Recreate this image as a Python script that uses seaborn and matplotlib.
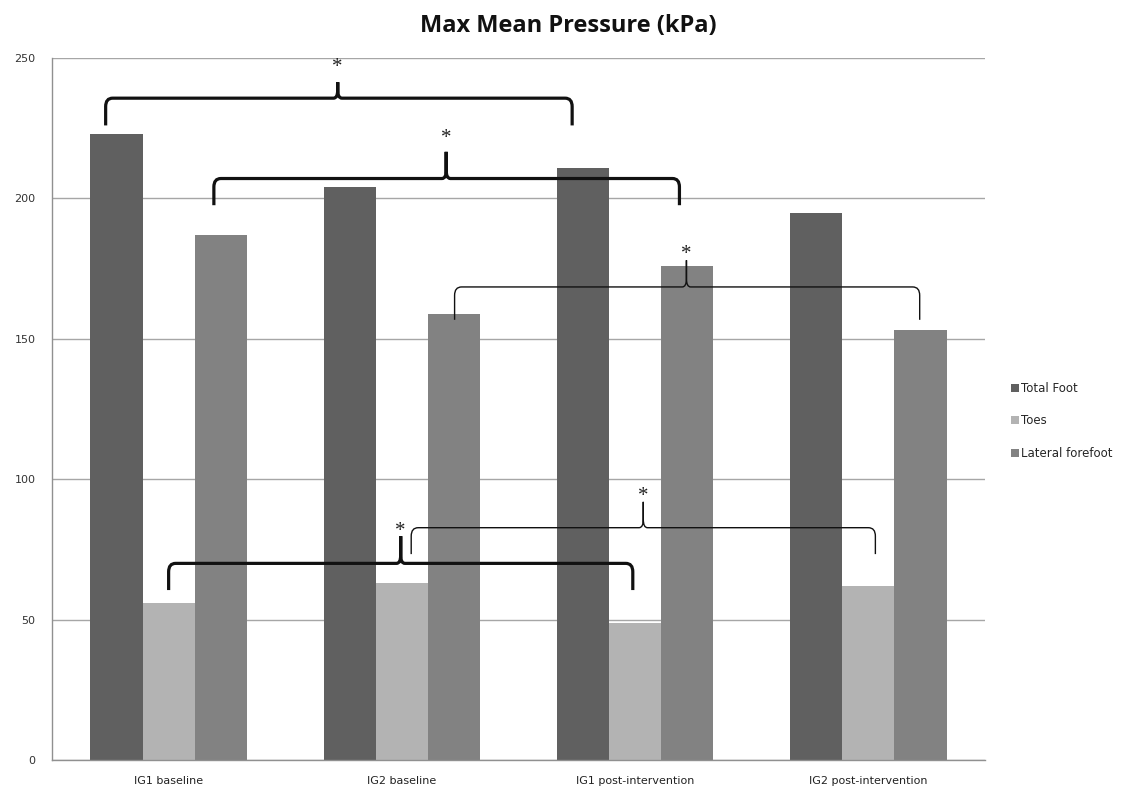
import matplotlib
matplotlib.use("Agg")
import matplotlib.pyplot as plt
from matplotlib.path import Path
from matplotlib.patches import PathPatch
import seaborn as sns
import pandas as pd

# ---- data ----
categories = ["IG1 baseline", "IG2 baseline", "IG1 post-intervention", "IG2 post-intervention"]
series = ["Total Foot", "Toes", "Lateral forefoot"]
total_foot = [223, 204, 211, 195]
toes = [56, 63, 49, 62]
lateral_forefoot = [187, 159, 176, 153]
colors = ["#606060", "#b3b3b3", "#828282"]
yticks = [0, 50, 100, 150, 200, 250]

rows = []
for name, vals in zip(series, [total_foot, toes, lateral_forefoot]):
    for c, v in zip(categories, vals):
        rows.append({"Group": c, "Region": name, "Value": v})
df = pd.DataFrame(rows)

sns.set_style("white")
fig = plt.figure(figsize=(11.28, 7.94), dpi=100)
ax = fig.add_axes([52/1128, 1-760.3/794, (985-52)/1128, (760.3-58)/794])

sns.barplot(data=df, x="Group", y="Value", hue="Region", order=categories,
            hue_order=series, palette=colors, width=0.67, saturation=1,
            linewidth=0, ax=ax, zorder=2, legend=True)

ax.set_xlim(-0.5, 3.5)
ax.set_ylim(0, 250)
ax.set_yticks(yticks)
ax.set_yticklabels([str(t) for t in yticks], fontsize=8, color="#333333",
                   family="DejaVu Sans")
ax.tick_params(axis="y", length=0, pad=12)
ax.tick_params(axis="x", length=0, pad=11)
for lab in ax.get_xticklabels():
    lab.set_family(["Liberation Sans Narrow", "DejaVu Sans"])
    lab.set_fontsize(8)
    lab.set_color("#222222")
ax.set_xlabel("")
ax.set_ylabel("")
ax.yaxis.grid(True, color="#a6a6a6", linewidth=1)
ax.set_axisbelow(True)
for s in ["top", "right"]:
    ax.spines[s].set_visible(False)
for s in ["left", "bottom"]:
    ax.spines[s].set_color("#909090")
    ax.spines[s].set_linewidth(1)

# legend
h, l = ax.get_legend_handles_labels()
ax.legend(h, l, loc="center left", bbox_to_anchor=(1006/1128, 1-421/794),
          bbox_transform=fig.transFigure, frameon=False, fontsize=8.5,
          handlelength=0.7, handleheight=0.7, handletextpad=0.2,
          labelspacing=1.65, borderaxespad=0)

# ---- significance braces ----
def brace(x0, x1, xp, yl, yh, yt, lw, r=0.03, ry=3.0, rp=0.018, ryp=3.0):
    verts = [(x0, yl), (x0, yh - ry), (x0, yh), (x0 + r, yh),
             (xp - rp, yh), (xp, yh), (xp, yh + ryp), (xp, yt),
             (xp, yh + ryp), (xp, yh), (xp + rp, yh),
             (x1 - r, yh), (x1, yh), (x1, yh - ry), (x1, yl)]
    codes = [Path.MOVETO, Path.LINETO, Path.CURVE3, Path.CURVE3,
             Path.LINETO, Path.CURVE3, Path.CURVE3, Path.LINETO,
             Path.LINETO, Path.CURVE3, Path.CURVE3,
             Path.LINETO, Path.CURVE3, Path.CURVE3, Path.LINETO]
    ax.add_patch(PathPatch(Path(verts, codes), fill=False, edgecolor="#111111",
                           linewidth=lw, capstyle="butt", joinstyle="miter",
                           zorder=5, clip_on=False))

def star(x, y):
    ax.text(x, y, "*", ha="center", va="center", fontsize=15,
            family="Liberation Serif", color="#222222", zorder=6)

# thick braces
brace(-0.27, 1.73, 0.725, 226, 235.7, 241.4, 2.3)
star(0.725, 246.5)
brace(0.194, 2.19, 1.19, 197.6, 207.1, 216.6, 2.3)
star(1.19, 221.5)
brace(0.0, 1.99, 0.995, 60.6, 70.1, 79.8, 2.3)
star(0.995, 81.5)
# thin braces
brace(1.226, 3.22, 2.22, 156.8, 168.5, 178.0, 1.0)
star(2.22, 180.0)
brace(1.04, 3.03, 2.035, 73.4, 82.8, 92.0, 1.0)
star(2.035, 94.0)

fig.text(568/1128, 1-26/794, "Max Mean Pressure (kPa)", ha="center", va="center",
         fontsize=17, fontweight="bold", family="Open Sans", color="#111111")

fig.savefig("out.png", dpi=100, facecolor="white")
